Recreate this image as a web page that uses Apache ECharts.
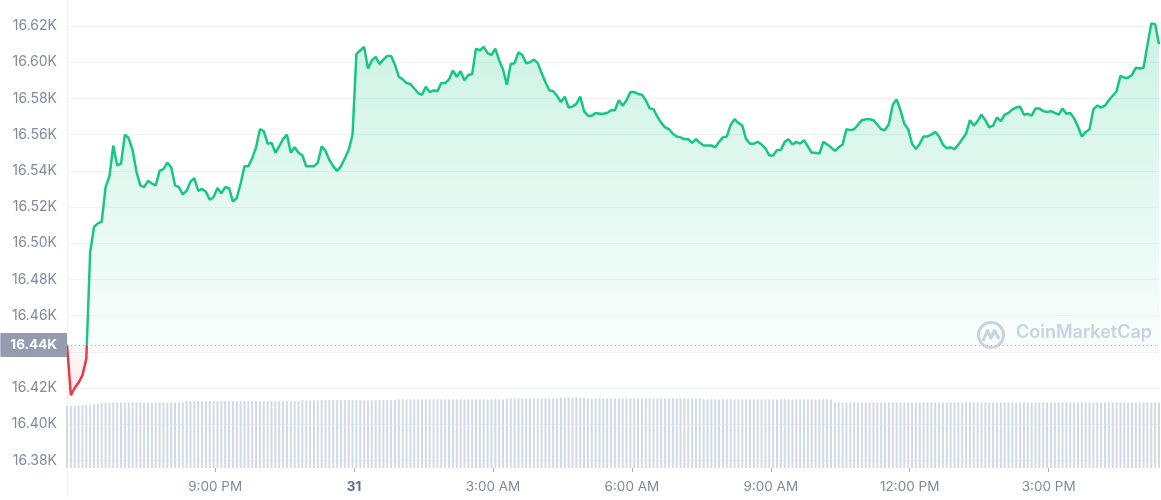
<!DOCTYPE html>
<html>
<head>
<meta charset="utf-8">
<script src="https://cdn.jsdelivr.net/npm/echarts@6/dist/echarts.min.js"></script>
<style>
html,body{margin:0;padding:0;background:#ffffff;}
#c{width:1161px;height:500px;}
</style>
</head>
<body>
<div id="c"></div>
<script>
// ---- data ----
const startMinute = 1068;      // 17:48 on Dec 30 (minutes since Dec 30 00:00)
const stepMinutes = 5;         // one point every 5 minutes
const openPrice = 16443.8;     // reference (opening) price – dotted line

// BTC price, one value per 5-minute step
const prices = [
  16444,16416,16420,16423,16427,16436,16495,16509,16511,16512,
  16531,16537,16554,16543,16544,16560,16558,16551.5,16539.5,16532,
  16531,16534.5,16533,16532,16540,16541,16544.5,16542,16532,16531,
  16527,16529,16534,16536,16529,16530,16528.5,16524,16525.5,16530.5,
  16527.5,16531,16530.5,16523,16525,16533,16542.5,16542.5,16547,16553,
  16563,16562,16555,16555.5,16550,16553.5,16557.5,16560,16550,16553,
  16550,16548.5,16542.5,16542.5,16542.5,16544.5,16553.5,16551,16546,16542.5,
  16540,16542.5,16547,16551.5,16560,16604.5,16606.5,16608.5,16596.5,16601,
  16603,16599,16601.5,16603.5,16603.5,16598.5,16592,16590.5,16588.5,16588,
  16585.5,16583,16582,16586.5,16583.5,16584.5,16584,16588.5,16588.5,16590.5,
  16595.5,16592,16595,16590,16593,16593.5,16607.5,16606.5,16608.5,16605,
  16604,16607.5,16601,16596,16587.5,16599,16599.5,16605.5,16604,16599.5,
  16600,16601.5,16599.5,16594,16589,16584.5,16584,16581.5,16578,16581,
  16575,16575.5,16577,16581,16573,16570.5,16570.5,16572,16571.5,16571.5,
  16572,16573.5,16573.5,16579,16576,16579,16583.5,16583.5,16582.5,16582,
  16579,16574.5,16574,16570,16566.5,16564,16563,16560.5,16559,16558.5,
  16557.5,16557.5,16555.5,16557.5,16555.5,16554,16554,16554,16553,16556,
  16558.5,16559,16565.5,16568.5,16566.5,16565,16557.5,16555,16555,16556,
  16554.5,16552.5,16548.5,16548.5,16551.5,16551.5,16556,16557.5,16554.5,16556,
  16555,16557,16553.5,16550,16550,16549.5,16556,16554.5,16553,16551,
  16553,16554.5,16563,16562.5,16563,16565.5,16568,16568.5,16568.5,16568,
  16565.5,16563,16562.5,16566,16576.5,16579.5,16573.5,16566,16563,16555,
  16552,16555,16559,16559,16560,16561.5,16559,16554.5,16552.5,16553,
  16552,16554.5,16557.5,16560.5,16568,16565,16567.5,16571,16568,16564,
  16565,16569.5,16567.5,16571,16572,16574,16575,16575.5,16571,16571.5,
  16570.5,16574.5,16574.5,16573,16572.5,16573,16572,16571,16574.5,16571.5,
  16572,16569,16564.5,16559,16561.5,16563,16574,16576,16575,16576,
  16579,16581.5,16584,16592.5,16591.5,16591.5,16593,16597,16596.5,16597,
  16609.5,16621.5,16621,16610
];

// 24h volume (billions USD), one bar per 5-minute step
const volumes = [
  14.1,14.1,14.1,14.3,14.3,14.3,14.3,14.5,14.5,14.8,
  14.8,14.9,14.9,14.9,14.9,14.9,14.9,14.9,14.9,14.9,
  14.9,14.9,14.9,14.9,14.9,14.9,14.9,14.9,14.9,14.9,
  14.9,15.2,15.2,15.2,15.2,15.2,15.2,15.2,15.2,15.2,
  15.2,15.2,15.2,15.2,15.2,15.2,15.2,15.2,15.2,15.2,
  15.2,15.2,15.2,15.2,15.2,15.2,15.2,15.2,15.2,15.2,
  15.2,15.4,15.4,15.4,15.4,15.4,15.4,15.4,15.4,15.4,
  15.4,15.4,15.4,15.4,15.4,15.4,15.4,15.4,15.4,15.4,
  15.4,15.4,15.4,15.4,15.4,15.4,15.6,15.6,15.6,15.6,
  15.6,15.6,15.6,15.6,15.6,15.6,15.6,15.6,15.6,15.6,
  15.6,15.6,15.6,15.6,15.6,15.6,15.6,15.6,15.6,15.6,
  15.6,15.6,15.6,15.6,15.8,15.8,15.8,15.8,15.8,15.8,
  15.8,15.8,15.8,15.8,15.8,15.8,15.8,15.8,16.0,16.0,
  16.0,16.0,16.0,16.0,16.0,15.8,15.8,15.8,15.8,15.8,
  15.8,15.8,15.8,15.8,15.8,15.8,15.8,15.8,15.8,15.8,
  15.8,15.8,15.8,15.8,15.8,15.8,15.8,15.8,15.8,15.8,
  15.8,15.8,15.8,15.8,15.8,15.6,15.6,15.6,15.6,15.6,
  15.6,15.6,15.6,15.6,15.6,15.6,15.6,15.6,15.6,15.6,
  15.6,15.6,15.6,15.6,15.6,15.6,15.6,15.6,15.6,15.6,
  15.6,15.6,15.6,15.6,15.6,15.6,15.6,15.6,15.6,14.9,
  14.9,14.9,14.9,14.9,14.9,14.9,14.9,14.9,14.9,14.9,
  14.9,14.9,14.9,14.9,14.9,14.9,14.9,14.9,14.9,14.9,
  14.9,14.9,14.9,14.9,14.9,14.9,14.9,14.9,14.9,14.9,
  14.9,14.9,14.9,14.9,14.9,14.9,14.9,14.9,14.9,14.9,
  14.9,14.9,14.9,14.9,14.9,14.9,14.9,14.9,14.9,14.9,
  14.9,14.9,14.9,14.9,14.9,14.9,14.9,14.9,14.9,14.9,
  14.9,14.9,14.9,14.9,14.9,14.9,14.9,14.9,14.9,14.9,
  14.9,14.9,14.9,14.9,14.9,14.9,14.9,14.9,14.9,14.9,
  14.9,14.9,14.9,14.9
];

// x-axis ticks (minutes since Dec 30 00:00) and their labels
const timeTicks = [1260, 1440, 1620, 1800, 1980, 2160, 2340];
const timeTickLabels = ['9:00 PM', '31', '3:00 AM', '6:00 AM', '9:00 AM', '12:00 PM', '3:00 PM'];
const boldTickLabels = ['31'];

// price axis range (USD)
const priceMin = 16360, priceMax = 16634.4, priceStep = 20;
const volMin = 0, volMax = 20;

// ---- chart ----
const priceData = prices.map((p, i) => [startMinute + i * stepMinutes, p]);
const volData = volumes.map((v, i) => [startMinute + i * stepMinutes, v]);
const xMin = startMinute;
const xMax = startMinute + (prices.length - 1) * stepMinutes;

const GREEN = '#16c784', RED = '#ea3943';
const LABEL = '#808a9d';
const GRID = '#eff2f5';
const fmtK = v => (v / 1000).toFixed(2) + 'K';

const chart = echarts.init(document.getElementById('c'), null, {renderer: 'canvas'});

const option = {
  animation: false,
  backgroundColor: '#ffffff',
  textStyle: {fontFamily: 'Inter, "Noto Sans", sans-serif'},
  grid: [
    {left: 67, right: 2, top: 0, bottom: 3.4},
    {left: 67, right: 2, top: 380, bottom: 32}
  ],
  xAxis: [
    {type: 'value', gridIndex: 0, min: xMin, max: xMax, show: false},
    {
      type: 'value', gridIndex: 1, min: xMin, max: xMax,
      axisLine: {show: false},
      splitLine: {show: false},
      axisTick: {show: true, customValues: timeTicks, length: 4, lineStyle: {color: '#a6adbd'}},
      axisLabel: {
        customValues: timeTicks,
        margin: 12,
        fontSize: 13.5,
        color: LABEL,
        formatter: v => {
          const i = timeTicks.indexOf(v);
          const t = i >= 0 ? timeTickLabels[i] : '';
          return boldTickLabels.includes(t) ? '{b|' + t + '}' : t;
        },
        rich: {b: {fontWeight: 700, color: '#616e85', fontSize: 13.5}}
      }
    }
  ],
  yAxis: [
    {
      type: 'value', gridIndex: 0, min: priceMin, max: priceMax, interval: priceStep,
      axisLine: {show: true, lineStyle: {color: GRID}},
      axisTick: {show: false},
      splitLine: {show: true, showMinLine: false, showMaxLine: false, lineStyle: {color: GRID, width: 1}},
      axisLabel: {
        showMinLabel: false, showMaxLabel: false,
        margin: 10, fontSize: 14, color: LABEL,
        formatter: v => (v === 16440 || v < 16380 || v > 16620 ? '' : fmtK(v))
      }
    },
    {type: 'value', gridIndex: 1, min: volMin, max: volMax, show: false}
  ],
  visualMap: {
    show: false, type: 'piecewise', seriesIndex: 0, dimension: 1,
    pieces: [
      {gte: priceMin, lt: openPrice, color: RED},
      {gte: openPrice, lte: priceMax, color: GREEN}
    ]
  },
  graphic: [
    {
      type: 'group', left: 976, top: 320, silent: true, z: 0,
      children: [
        {type: 'circle', shape: {cx: 14, cy: 14, r: 12.5}, style: {fill: 'none', stroke: '#cdd4e2', lineWidth: 3}},
        {type: 'polyline', shape: {points: [[6, 20], [10.5, 9.5], [14, 17], [17.5, 9.5], [22, 18]]},
          style: {fill: 'none', stroke: '#cdd4e2', lineWidth: 3, lineJoin: 'round'}}
      ]
    },
    {
      type: 'text', left: 1016, top: 324, silent: true, z: 0,
      style: {text: 'CoinMarketCap', fontSize: 18, fontWeight: 600, fill: '#cdd4e2', fontFamily: 'Inter'}
    }
  ],
  series: [
    {
      id: 'price', type: 'line', xAxisIndex: 0, yAxisIndex: 0,
      data: priceData, showSymbol: false, symbol: 'none', z: 3,
      lineStyle: {width: 2.5},
      areaStyle: {origin: openPrice, color: 'rgba(22,199,132,0.15)'},
      markLine: {
        silent: true, symbol: ['none', 'none'], animation: false,
        lineStyle: {type: [1, 3], color: '#a3a9b8', width: 1},
        label: {
          show: true, position: 'start', distance: 0,
          formatter: fmtK(openPrice),
          color: '#ffffff', fontSize: 13.5, fontWeight: 700,
          backgroundColor: '#959cad', padding: [5, 10, 5, 10]
        },
        data: [{yAxis: openPrice}]
      }
    },
    {
      type: 'bar', xAxisIndex: 1, yAxisIndex: 1,
      data: volData, barWidth: 2, z: 1,
      itemStyle: {color: '#d2d9e7'}
    }
  ]
};

chart.setOption(option);

// area gradient: green above the opening price, red below it
const py = v => chart.convertToPixel({yAxisIndex: 0}, v);
const topY = py(16625), baseY = py(openPrice), botY = py(16410);
const off = (baseY - topY) / (botY - topY);
chart.setOption({
  series: [{
    id: 'price',
    areaStyle: {
      origin: openPrice,
      color: new echarts.graphic.LinearGradient(0, topY, 0, botY, [
        {offset: 0, color: 'rgba(22,199,132,0.32)'},
        {offset: off, color: 'rgba(22,199,132,0.04)'},
        {offset: off, color: 'rgba(234,57,67,0.04)'},
        {offset: 1, color: 'rgba(234,57,67,0.2)'}
      ], true)
    }
  }]
});
</script>
</body>
</html>
